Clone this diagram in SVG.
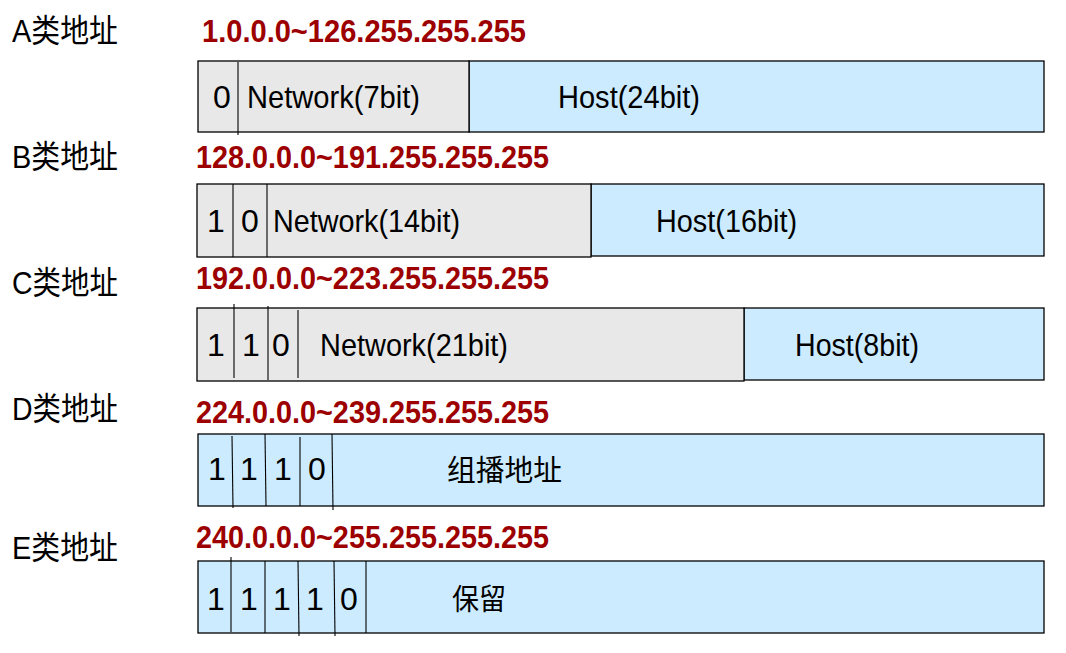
<svg xmlns="http://www.w3.org/2000/svg" width="1066" height="653" viewBox="0 0 1066 653">
<style>
.bg{fill:#FFFFFF}
.net{fill:#E8E8E8;stroke:#000;stroke-width:1.3}
.host{fill:#CCEBFE;stroke:#000;stroke-width:1.3}
.div{stroke:#000;stroke-width:1.1}
.t{font-family:"Liberation Sans",Arial,"Noto Sans CJK SC",sans-serif;font-size:32px;fill:#000}
.c{font-family:"Liberation Sans",Arial,"Noto Sans CJK SC",sans-serif;font-size:29px;fill:#000}
.d{font-family:"Liberation Sans",Arial,sans-serif;font-size:32px;fill:#000;text-anchor:middle}
.r{font-family:"Liberation Sans",Arial,sans-serif;font-size:31px;font-weight:bold;fill:#9C0000}
</style>
<rect class="bg" x="0" y="0" width="1066" height="653"/>

<g id="classA">
<text class="t" x="12" y="42" textLength="106" lengthAdjust="spacingAndGlyphs">A类地址</text>
<text class="r" x="202" y="42" textLength="324" lengthAdjust="spacingAndGlyphs">1.0.0.0~126.255.255.255</text>
<rect class="host" x="469" y="61" width="575" height="71"/>
<rect class="net" x="198" y="61" width="271" height="71"/>
<line class="div" x1="238" y1="62" x2="238" y2="135"/>
<text class="d" x="222" y="108">0</text>
<text class="t" x="247" y="108" textLength="173" lengthAdjust="spacingAndGlyphs">Network(7bit)</text>
<text class="t" x="558" y="108" textLength="142" lengthAdjust="spacingAndGlyphs">Host(24bit)</text>
</g>

<g id="classB">
<text class="t" x="12" y="168" textLength="106" lengthAdjust="spacingAndGlyphs">B类地址</text>
<text class="r" x="196" y="168" textLength="353" lengthAdjust="spacingAndGlyphs">128.0.0.0~191.255.255.255</text>
<rect class="host" x="591" y="184" width="453" height="72"/>
<rect class="net" x="197" y="184" width="394" height="73"/>
<line class="div" x1="233" y1="184" x2="233" y2="257"/>
<line class="div" x1="267" y1="184" x2="267" y2="257"/>
<text class="d" x="216" y="232">1</text>
<text class="d" x="250" y="232">0</text>
<text class="t" x="273" y="232" textLength="187" lengthAdjust="spacingAndGlyphs">Network(14bit)</text>
<text class="t" x="656" y="232" textLength="141" lengthAdjust="spacingAndGlyphs">Host(16bit)</text>
</g>

<g id="classC">
<text class="t" x="12" y="294" textLength="106" lengthAdjust="spacingAndGlyphs">C类地址</text>
<text class="r" x="196" y="289" textLength="353" lengthAdjust="spacingAndGlyphs">192.0.0.0~223.255.255.255</text>
<rect class="host" x="744" y="308" width="300" height="72"/>
<rect class="net" x="197" y="308" width="547" height="73"/>
<line class="div" x1="234" y1="304" x2="234" y2="378"/>
<line class="div" x1="268" y1="306" x2="268" y2="380"/>
<line class="div" x1="298" y1="310" x2="298" y2="378"/>
<text class="d" x="216" y="356">1</text>
<text class="d" x="251" y="356">1</text>
<text class="d" x="281" y="356">0</text>
<text class="t" x="320" y="356" textLength="188" lengthAdjust="spacingAndGlyphs">Network(21bit)</text>
<text class="t" x="795" y="356" textLength="124" lengthAdjust="spacingAndGlyphs">Host(8bit)</text>
</g>

<g id="classD">
<text class="t" x="12" y="420" textLength="106" lengthAdjust="spacingAndGlyphs">D类地址</text>
<text class="r" x="196" y="423" textLength="353" lengthAdjust="spacingAndGlyphs">224.0.0.0~239.255.255.255</text>
<rect class="host" x="198" y="434" width="846" height="72"/>
<line class="div" x1="232" y1="436" x2="233" y2="508"/>
<line class="div" x1="265" y1="434" x2="266" y2="506"/>
<line class="div" x1="300" y1="437" x2="300" y2="506"/>
<line class="div" x1="332" y1="434" x2="333" y2="510"/>
<text class="d" x="217" y="480">1</text>
<text class="d" x="249" y="480">1</text>
<text class="d" x="283" y="480">1</text>
<text class="d" x="317" y="480">0</text>
<text class="c" x="447" y="481" textLength="115" lengthAdjust="spacingAndGlyphs">组播地址</text>
</g>

<g id="classE">
<text class="t" x="12" y="559" textLength="106" lengthAdjust="spacingAndGlyphs">E类地址</text>
<text class="r" x="196" y="548" textLength="353" lengthAdjust="spacingAndGlyphs">240.0.0.0~255.255.255.255</text>
<rect class="host" x="198" y="561" width="846" height="72"/>
<line class="div" x1="231" y1="557" x2="231" y2="632"/>
<line class="div" x1="265" y1="561" x2="265" y2="633"/>
<line class="div" x1="298" y1="561" x2="299" y2="636"/>
<line class="div" x1="334" y1="561" x2="335" y2="636"/>
<line class="div" x1="366" y1="561" x2="366" y2="633"/>
<text class="d" x="216" y="610">1</text>
<text class="d" x="249" y="610">1</text>
<text class="d" x="282" y="610">1</text>
<text class="d" x="315" y="610">1</text>
<text class="d" x="349" y="610">0</text>
<text class="c" x="452" y="610" textLength="54" lengthAdjust="spacingAndGlyphs">保留</text>
</g>
</svg>
